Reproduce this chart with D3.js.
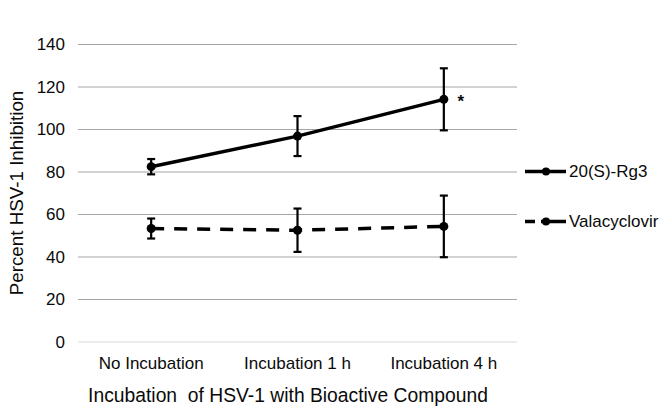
<!DOCTYPE html>
<html><head><meta charset="utf-8">
<script src="https://cdn.jsdelivr.net/npm/d3@7"></script>
<style>body{margin:0;background:#fff}svg{display:block}text{font-family:"Liberation Sans",Arial,sans-serif;fill:#0a0a0a}</style>
</head><body>
<svg id="c" width="669" height="417"></svg>
<script>
const categories = ["No Incubation", "Incubation 1 h", "Incubation 4 h"];
const rg3Values = [82.5, 96.9, 114.2];
const rg3Errors = [3.6, 9.4, 14.6];
const valValues = [53.4, 52.6, 54.4];
const valErrors = [4.7, 10.2, 14.5];
const seriesNames = ["20(S)-Rg3", "Valacyclovir"];
const yTicks = [0, 20, 40, 60, 80, 100, 120, 140];
const significance = ["", "", "*"];

const svg = d3.select("#c");
const x = d3.scaleBand().domain(categories).range([78, 517]);
const y = d3.scaleLinear().domain([0, 140]).range([342, 44.5]);

// gridlines
svg.append("g").selectAll("line").data(yTicks).join("line")
  .attr("x1", 78).attr("x2", 517)
  .attr("y1", d => y(d)).attr("y2", d => y(d))
  .attr("stroke", d => d === 0 ? "#d9d9d9" : "#a6a6a6").attr("stroke-width", 1.2);

// y tick labels
svg.append("g").selectAll("text").data(yTicks).join("text")
  .attr("x", 65).attr("y", d => y(d)).attr("dy", "0.35em")
  .attr("text-anchor", "end").attr("font-size", 17).text(d => d);

// x labels
svg.append("g").selectAll("text").data(categories).join("text")
  .attr("x", d => x(d) + x.bandwidth() / 2).attr("y", 368.5)
  .attr("text-anchor", "middle").attr("font-size", 17).text(d => d);

svg.append("text").attr("x", 288).attr("y", 401.5).attr("text-anchor", "middle")
  .attr("font-size", 19.3).attr("xml:space", "preserve").text("Incubation  of HSV-1 with Bioactive Compound");

svg.append("text").attr("transform", "translate(23,193) rotate(-90)")
  .attr("text-anchor", "middle").attr("font-size", 18.8).text("Percent HSV-1 Inhibition");

const cx = d => x(d) + x.bandwidth() / 2;
const series = [
  {name: seriesNames[0], vals: rg3Values, errs: rg3Errors, dash: null},
  {name: seriesNames[1], vals: valValues, errs: valErrors, dash: "13,10"}
];
const line = d3.line().x(d => cx(d.c)).y(d => y(d.v));

series.forEach((s, si) => {
  const pts = categories.map((c, i) => ({c, v: s.vals[i], e: s.errs[i]}));
  svg.append("path").datum(pts).attr("d", line).attr("fill", "none")
    .attr("stroke", "#000").attr("stroke-width", 3.5)
    .attr("stroke-dasharray", s.dash);
  const g = svg.append("g");
  pts.forEach(p => {
    const X = cx(p.c);
    g.append("line").attr("x1", X).attr("x2", X).attr("y1", y(p.v + p.e)).attr("y2", y(p.v - p.e))
      .attr("stroke", "#000").attr("stroke-width", 2.2);
    [p.v + p.e, p.v - p.e].forEach(v => g.append("line").attr("x1", X - 4).attr("x2", X + 4)
      .attr("y1", y(v)).attr("y2", y(v)).attr("stroke", "#000").attr("stroke-width", 2.2));
    g.append("circle").attr("cx", X).attr("cy", y(p.v)).attr("r", 4.5).attr("fill", "#000");
  });
  // legend
  const ly = si === 0 ? 171.5 : 221.5;
  svg.append("line").attr("x1", 525).attr("x2", 566).attr("y1", ly).attr("y2", ly)
    .attr("stroke", "#000").attr("stroke-width", 3.5).attr("stroke-dasharray", s.dash ? "10,6,30" : null);
  svg.append("circle").attr("cx", 546).attr("cy", ly).attr("r", 4).attr("fill", "#000");
  svg.append("text").attr("x", 569).attr("y", ly).attr("dy", "0.35em").attr("font-size", 17).text(s.name);
});

// significance
svg.append("g").selectAll("text").data(categories).join("text")
  .attr("x", d => cx(d) + 17).attr("y", (d, i) => y(rg3Values[i]) + 8)
  .attr("font-size", 17).attr("font-weight", "bold").attr("text-anchor", "middle")
  .text((d, i) => significance[i]);
</script>
</body></html>
